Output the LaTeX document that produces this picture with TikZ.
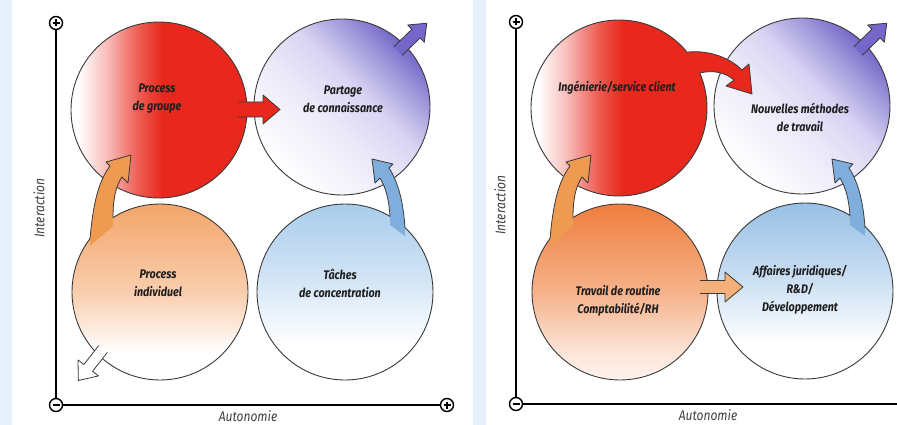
\documentclass[tikz,border=0pt]{standalone}
\usepackage{fontspec}
\setmainfont{Fira Sans}
\newfontfamily\lblfont[FakeStretch=0.86]{Fira Sans}
\usetikzlibrary{calc}
\definecolor{cLine}{HTML}{3A3A3A}
\definecolor{cRed}{HTML}{E8281C}
\definecolor{cPurp}{HTML}{7467C9}
\definecolor{cLav}{HTML}{D7D3F3}
\definecolor{cOrgA}{HTML}{F4A56A}
\definecolor{cOrgB}{HTML}{EF7E3C}
\definecolor{cBluA}{HTML}{A9CCEC}
\definecolor{cBluB}{HTML}{98C0E6}
\definecolor{cArrO}{HTML}{EE9A50}
\definecolor{cArrB}{HTML}{80AEDC}
\definecolor{cArrO2}{HTML}{F5B07A}
\definecolor{cStrip}{HTML}{E6F0FA}
\definecolor{cTxt}{HTML}{1E1E1E}
\definecolor{cAx}{HTML}{404040}
\pgfdeclarehorizontalshading{redsh}{100bp}{color(0bp)=(white); color(27bp)=(white); color(35bp)=(cRed!30!white); color(44bp)=(cRed!75!white); color(51bp)=(cRed); color(100bp)=(cRed)}
\pgfdeclareverticalshading{purpsh}{100bp}{color(0bp)=(white); color(25bp)=(white); color(45bp)=(cLav!50!white); color(57bp)=(cLav); color(68bp)=(cPurp!70!white); color(75bp)=(cPurp); color(100bp)=(cPurp)}
\pgfdeclareverticalshading{orgshA}{100bp}{color(0bp)=(white); color(25bp)=(white); color(33bp)=(white); color(50bp)=(cOrgA!55!white); color(75bp)=(cOrgA); color(100bp)=(cOrgA)}
\pgfdeclareverticalshading{orgshB}{100bp}{color(0bp)=(white); color(25bp)=(cOrgB!10!white); color(33bp)=(cOrgB!20!white); color(50bp)=(cOrgB!60!white); color(75bp)=(cOrgB); color(100bp)=(cOrgB)}
\pgfdeclareverticalshading{blushA}{100bp}{color(0bp)=(white); color(25bp)=(white); color(35bp)=(white); color(55bp)=(cBluA!55!white); color(75bp)=(cBluA); color(100bp)=(cBluA)}
\pgfdeclareverticalshading{blushB}{100bp}{color(0bp)=(white); color(25bp)=(white); color(35bp)=(white); color(55bp)=(cBluB!55!white); color(75bp)=(cBluB); color(100bp)=(cBluB)}
\newcommand\blockarr[7]{%
  \begin{scope}[shift={#1}, rotate=#2]
    \fill[#7] (0,-#4) -- (#3-#6,-#4) -- (#3-#6,-#5) -- (#3,0) -- (#3-#6,#5) -- (#3-#6,#4) -- (0,#4) -- cycle;
    \draw[arrline] (0,-#4) -- (#3-#6,-#4) -- (#3-#6,-#5) -- (#3,0) -- (#3-#6,#5) -- (#3-#6,#4) -- (0,#4);
  \end{scope}}
\begin{document}
\begin{tikzpicture}[x=1pt,y=-1pt,
  bub/.style={circle, minimum size=176pt, inner sep=0pt, draw=cLine, line width=0.9pt, shade},
  pm/.style={circle, draw=black, line width=1.4pt, minimum size=13pt, inner sep=0pt, fill=white},
  axisline/.style={draw=black, line width=1.5pt},
  arrline/.style={draw=cLine, line width=0.8pt, line join=round},
  lbl/.style={font=\lblfont\bfseries\itshape\fontsize{12.5}{18}\selectfont, align=center, inner sep=0pt, text=cTxt},
  axl/.style={font=\lblfont\itshape\fontsize{14}{16}\selectfont, inner sep=0pt, text=cAx}]
\useasboundingbox (0,0) rectangle (897,425);
\fill[white] (0,0) rectangle (897,425);
\fill[cStrip] (0,0) rectangle (12,425);
\fill[cStrip] (473,0) rectangle (486,425);

% ---------- left panel axes
\node[pm] (Lp) at (56,23) {};
\node[pm] (Lm) at (56,405) {};
\node[pm] (Lr) at (447,405) {};
\draw[axisline] (Lp) -- (Lm);
\draw[axisline] (Lm) -- (Lr);
\foreach \n in {Lp,Lr} {\draw[line width=1.4pt] ($(\n)+(-3.5,0)$) -- ($(\n)+(3.5,0)$) ($(\n)+(0,-3.5)$) -- ($(\n)+(0,3.5)$);}
\draw[line width=1.4pt] ($(Lm)+(-3.5,0)$) -- ($(Lm)+(3.5,0)$);
\node[axl, rotate=90] (Lyl) at (39,208) {Interaction};
\node[axl] (Lxl) at (248,416) {Autonomie};

% ---------- left panel circles
\node[bub, shading=redsh] (Ltl) at (159,110) {};
\node[bub, shading=purpsh, shading angle=-45] (Ltr) at (342,107) {};
\node[bub, shading=orgshA] (Lbl) at (160,292) {};
\node[bub, shading=blushA] (Lbr) at (345,292) {};

% ---------- left panel arrows
\fill[cArrO] (90,246) -- (90,238.7) .. controls (93,205) and (98,182) .. (110,166) -- (106,162) -- (131,155) -- (128,183) -- (122,177) .. controls (116,186) and (113,198) .. (113,217.6) -- (113,226) -- cycle;
\draw[arrline] (90,238.7) .. controls (93,205) and (98,182) .. (110,166) -- (106,162) -- (131,155) -- (128,183) -- (122,177) .. controls (116,186) and (113,198) .. (113,217.6);
\fill[cArrB] (405,236) -- (405,227.6) .. controls (403,200) and (398,182) .. (389,168) -- (393,164) -- (372,159) -- (375,183) -- (380,178) .. controls (386,188) and (389,200) .. (390,216.4) -- (390,225) -- cycle;
\draw[arrline] (405,227.6) .. controls (403,200) and (398,182) .. (389,168) -- (393,164) -- (372,159) -- (375,183) -- (380,178) .. controls (386,188) and (389,200) .. (390,216.4);
\blockarr{(238,109.5)}{0}{42}{7.5}{14.5}{17}{cRed}
\blockarr{(398,51)}{44}{40}{6}{12}{15}{cPurp}
\blockarr{(103,349)}{232}{40}{5.5}{13}{16}{white}

% ---------- left panel labels
\node[lbl] (Lt1) at (157,99) {Process\\de groupe};
\node[lbl] (Lt2) at (343,99) {Partage\\de connaissance};
\node[lbl] (Lt3) at (158,283) {Process\\individuel};
\node[lbl] (Lt4) at (340,283) {Tâches\\de concentration};

% ---------- right panel axes
\node[pm] (Rp) at (516,22) {};
\node[pm] (Rm) at (516,404) {};
\coordinate (Rend) at (897,404);
\draw[axisline] (Rp) -- (Rm);
\draw[axisline] (Rm) -- (Rend);
\draw[line width=1.4pt] ($(Rp)+(-3.5,0)$) -- ($(Rp)+(3.5,0)$) ($(Rp)+(0,-3.5)$) -- ($(Rp)+(0,3.5)$);
\draw[line width=1.4pt] ($(Rm)+(-3.5,0)$) -- ($(Rm)+(3.5,0)$);
\node[axl, rotate=90] (Ryl) at (500,205) {Interaction};
\node[axl] (Rxl) at (708,415) {Autonomie};

% ---------- right panel circles
\node[bub, shading=redsh] (Rtl) at (619,108) {};
\node[bub, shading=purpsh, shading angle=-45] (Rtr) at (802,106) {};
\node[bub, shading=orgshB] (Rbl) at (620,292) {};
\node[bub, shading=blushB] (Rbr) at (805,291) {};

% ---------- right panel arrows
\begin{scope}[shift={(460,0)}]
\fill[cArrO] (90,246) -- (90,238.7) .. controls (93,205) and (98,182) .. (110,166) -- (106,162) -- (131,155) -- (128,183) -- (122,177) .. controls (116,186) and (113,198) .. (113,217.6) -- (113,226) -- cycle;
\draw[arrline] (90,238.7) .. controls (93,205) and (98,182) .. (110,166) -- (106,162) -- (131,155) -- (128,183) -- (122,177) .. controls (116,186) and (113,198) .. (113,217.6);
\fill[cArrB] (405,236) -- (405,227.6) .. controls (403,200) and (398,182) .. (389,168) -- (393,164) -- (372,159) -- (375,183) -- (380,178) .. controls (386,188) and (389,200) .. (390,216.4) -- (390,225) -- cycle;
\draw[arrline] (405,227.6) .. controls (403,200) and (398,182) .. (389,168) -- (393,164) -- (372,159) -- (375,183) -- (380,178) .. controls (386,188) and (389,200) .. (390,216.4);
\end{scope}
\fill[cRed] (684,60) -- (688,52) .. controls (710,50) and (730,58) .. (742,70) -- (749,64) -- (752,94) -- (726,86) -- (734,80) .. controls (725,72) and (712,70) .. (700,73) -- (692,70) -- cycle;
\draw[arrline] (688,52) .. controls (710,50) and (730,58) .. (742,70) -- (749,64) -- (752,94) -- (726,86) -- (734,80) .. controls (725,72) and (712,70) .. (700,73);
\blockarr{(700,287)}{0}{43}{6.5}{15}{18}{cArrO2}
\blockarr{(858,51)}{44}{40}{6}{12}{15}{cPurp}

% ---------- right panel labels
\node[lbl] (Rt1) at (617,88) {Ingénierie/service client};
\node[lbl] (Rt2) at (800,117) {Nouvelles méthodes\\de travail};
\node[lbl] (Rt3) at (618,301) {Travail de routine\\Comptabilité/RH};
\node[lbl] (Rt4) at (800,290) {Affaires juridiques/\\R\&D/\\Développement};
\end{tikzpicture}
\end{document}
